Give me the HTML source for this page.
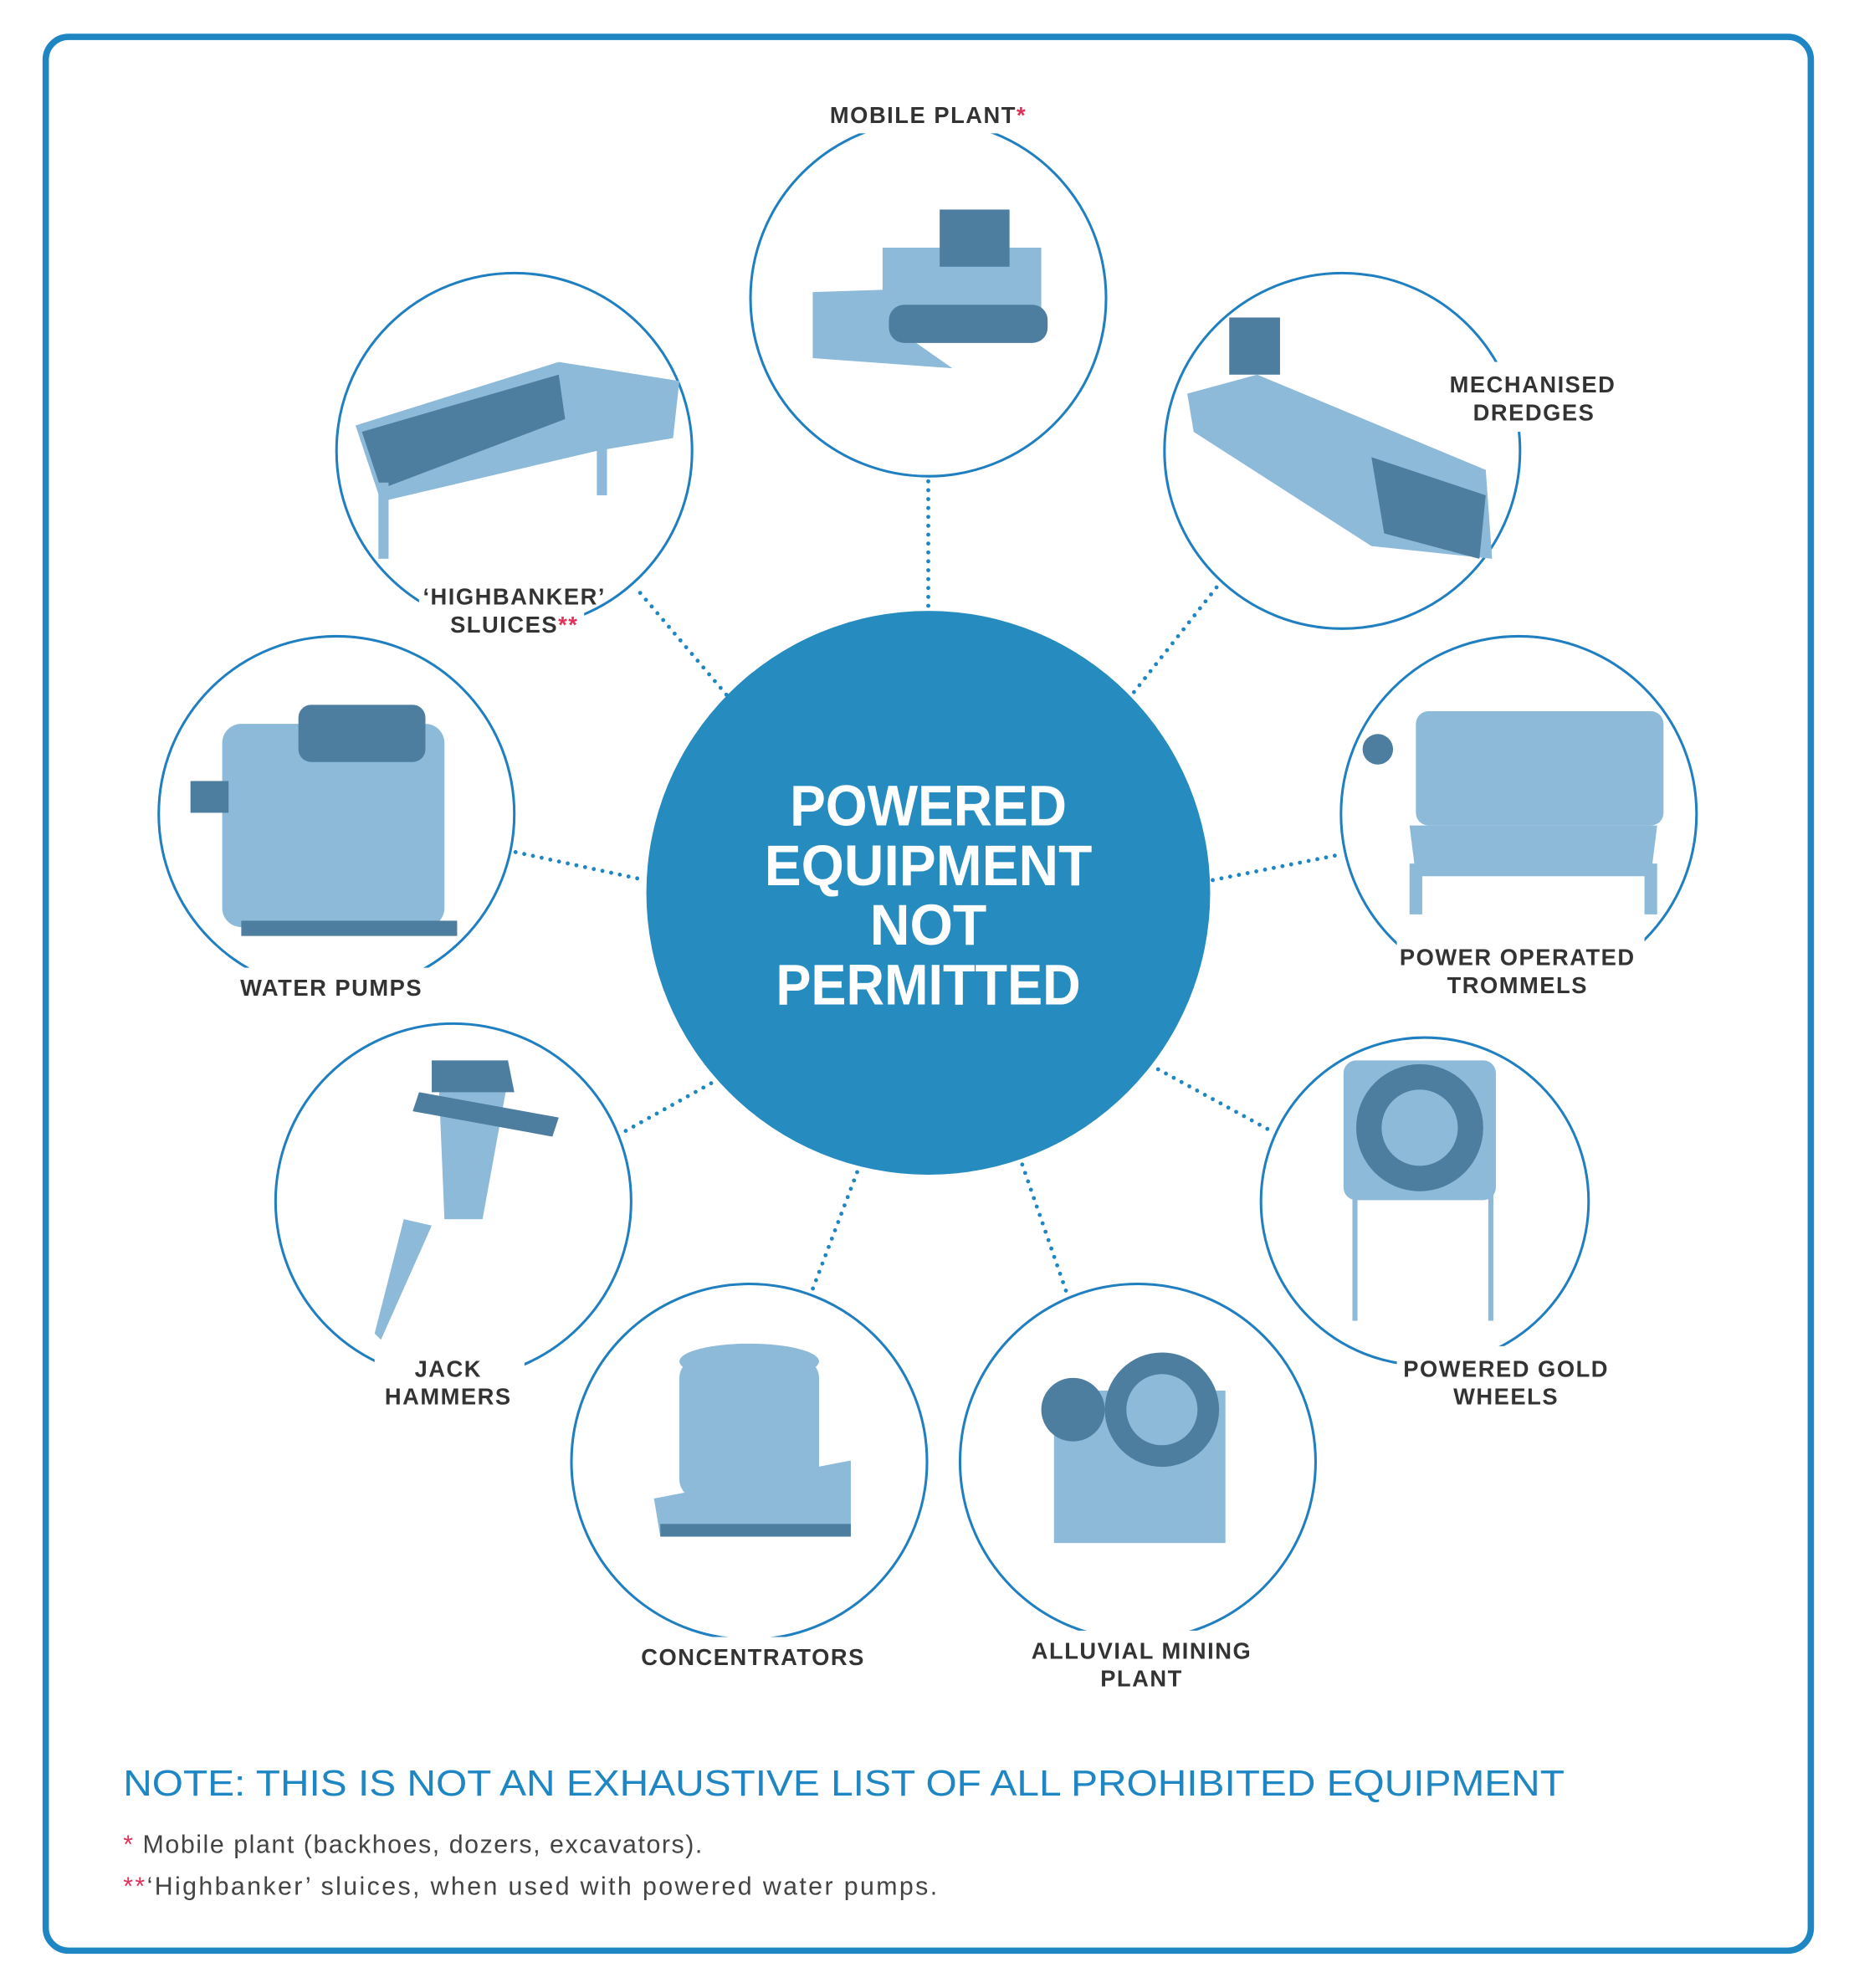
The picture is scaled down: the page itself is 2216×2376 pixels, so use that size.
<!DOCTYPE html>
<html><head><meta charset="utf-8"><style>
html,body{margin:0;padding:0;background:#fff;}
svg{display:block;}
.lab{font-family:"Liberation Sans",sans-serif;font-weight:bold;font-size:18px;fill:#333;letter-spacing:1px;}
.ring{fill:none;stroke:#1f7fc0;stroke-width:2;}
.dot{stroke:#1f86c4;stroke-width:3.2;stroke-linecap:round;stroke-dasharray:0 7;}
.img{fill:#8dbad8;}
.dk{fill:#4d7d9f;}
.wb{fill:#fff;}
</style></head><body>
<svg width="2216" height="2376" viewBox="0 0 1460 1565.4" xmlns="http://www.w3.org/2000/svg">
<rect x="36" y="29" width="1390" height="1507" rx="18" fill="#fff" stroke="#1f86c4" stroke-width="5"/>

<line class="dot" x1="731" y1="379" x2="731" y2="480"/>
<line class="dot" x1="893" y1="545" x2="960" y2="460"/>
<line class="dot" x1="955" y1="693" x2="1055" y2="673"/>
<line class="dot" x1="912" y1="842" x2="1000" y2="890"/>
<line class="dot" x1="805" y1="917" x2="840" y2="1018"/>
<line class="dot" x1="675" y1="923" x2="640" y2="1015"/>
<line class="dot" x1="560" y1="853" x2="490" y2="892"/>
<line class="dot" x1="406" y1="671" x2="508" y2="693"/>
<line class="dot" x1="572" y1="547" x2="500" y2="462"/>

<circle class="ring" cx="731" cy="235" r="140"/>
<circle class="ring" cx="1057" cy="355" r="140"/>
<circle class="ring" cx="405" cy="355" r="140"/>
<circle class="ring" cx="265" cy="641" r="140"/>
<circle class="ring" cx="1196" cy="641" r="140"/>
<circle class="ring" cx="357" cy="946" r="140"/>
<circle class="ring" cx="1122" cy="946" r="129"/>
<circle class="ring" cx="590" cy="1151" r="140"/>
<circle class="ring" cx="896" cy="1151" r="140"/>

<g>
<polygon class="img" points="640,230 700,228 700,255 750,290 640,282"/>
<rect class="img" x="695" y="195" width="125" height="60"/>
<rect class="dk" x="740" y="165" width="55" height="45"/>
<rect class="dk" x="700" y="240" width="125" height="30" rx="12"/>
<polygon class="img" points="935,310 990,295 1170,370 1175,440 1080,430 940,340"/>
<rect class="dk" x="968" y="250" width="40" height="45"/>
<polygon class="dk" points="1080,360 1170,390 1165,440 1090,420"/>
<polygon class="img" points="280,335 440,285 535,300 530,345 470,355 300,395"/>
<polygon class="dk" points="285,340 440,295 445,330 300,385"/>
<rect class="img" x="298" y="380" width="8" height="60"/>
<rect class="img" x="470" y="340" width="8" height="50"/>
<rect class="img" x="175" y="570" width="175" height="160" rx="15"/>
<rect class="dk" x="235" y="555" width="100" height="45" rx="10"/>
<rect class="dk" x="190" y="725" width="170" height="12"/>
<rect class="dk" x="150" y="615" width="30" height="25"/>
<rect class="img" x="1115" y="560" width="195" height="90" rx="10"/>
<polygon class="img" points="1110,650 1305,650 1300,690 1115,690"/>
<rect class="img" x="1110" y="680" width="10" height="40"/>
<rect class="img" x="1295" y="680" width="10" height="40"/>
<circle class="dk" cx="1085" cy="590" r="12"/>
<polygon class="img" points="345,840 400,850 380,960 350,960"/>
<polygon class="dk" points="330,860 440,880 435,895 325,875"/>
<polygon class="dk" points="340,835 400,835 405,860 340,860"/>
<polygon class="img" points="318,960 340,965 300,1055 295,1050"/>
<rect class="img" x="1058" y="835" width="120" height="110" rx="10"/>
<circle class="dk" cx="1118" cy="888" r="50"/>
<circle class="img" cx="1118" cy="888" r="30"/>
<rect class="img" x="1065" y="940" width="4" height="100"/>
<rect class="img" x="1172" y="940" width="4" height="100"/>
<rect class="img" x="535" y="1070" width="110" height="110" rx="15"/>
<ellipse class="img" cx="590" cy="1072" rx="55" ry="14"/>
<polygon class="img" points="515,1180 670,1150 670,1205 520,1210"/>
<rect class="dk" x="520" y="1200" width="150" height="10"/>
<rect class="img" x="830" y="1095" width="135" height="120"/>
<circle class="dk" cx="915" cy="1110" r="45"/>
<circle class="img" cx="915" cy="1110" r="28"/>
<circle class="dk" cx="845" cy="1110" r="25"/>
</g>

<circle cx="731" cy="703" r="222" fill="#268bbf"/>
<g font-family="Liberation Sans,sans-serif" font-weight="bold" font-size="45" fill="#fff" text-anchor="middle">
<text x="731" y="650" textLength="218" lengthAdjust="spacingAndGlyphs">POWERED</text>
<text x="731" y="697" textLength="258" lengthAdjust="spacingAndGlyphs">EQUIPMENT</text>
<text x="731" y="744" textLength="92" lengthAdjust="spacingAndGlyphs">NOT</text>
<text x="731" y="791" textLength="240" lengthAdjust="spacingAndGlyphs">PERMITTED</text>
</g>

<rect class="wb" x="648" y="75" width="170" height="30"/>
<rect class="wb" x="1135" y="285" width="145" height="55"/>
<rect class="wb" x="330" y="455" width="130" height="55"/>
<rect class="wb" x="180" y="762" width="165" height="30"/>
<rect class="wb" x="1100" y="738" width="195" height="55"/>
<rect class="wb" x="295" y="1062" width="118" height="55"/>
<rect class="wb" x="1100" y="1060" width="175" height="55"/>
<rect class="wb" x="500" y="1289" width="185" height="30"/>
<rect class="wb" x="805" y="1284" width="190" height="55"/>

<g class="lab" text-anchor="middle">
<text x="731" y="97">MOBILE PLANT<tspan fill="#e0315a">*</tspan></text>
<text x="1207" y="309">MECHANISED</text>
<text x="1208" y="331">DREDGES</text>
<text x="405" y="476">‘HIGHBANKER’</text>
<text x="405" y="498">SLUICES<tspan fill="#e0315a">**</tspan></text>
<text x="261" y="784">WATER PUMPS</text>
<text x="1195" y="760">POWER OPERATED</text>
<text x="1195" y="782">TROMMELS</text>
<text x="353" y="1084">JACK</text>
<text x="353" y="1106">HAMMERS</text>
<text x="1186" y="1084">POWERED GOLD</text>
<text x="1186" y="1106">WHEELS</text>
<text x="593" y="1311">CONCENTRATORS</text>
<text x="899" y="1306">ALLUVIAL MINING</text>
<text x="899" y="1328">PLANT</text>
</g>

<text x="97" y="1414" font-family="Liberation Sans,sans-serif" font-size="29" fill="#1f86c4" textLength="1135" lengthAdjust="spacingAndGlyphs">NOTE: THIS IS NOT AN EXHAUSTIVE LIST OF ALL PROHIBITED EQUIPMENT</text>
<g font-family="Liberation Sans,sans-serif" font-size="20" fill="#444">
<text x="97" y="1459" textLength="456" lengthAdjust="spacing"><tspan fill="#e0315a">*</tspan> Mobile plant (backhoes, dozers, excavators).</text>
<text x="97" y="1492" textLength="641" lengthAdjust="spacing"><tspan fill="#e0315a">**</tspan>‘Highbanker’ sluices, when used with powered water pumps.</text>
</g>
</svg>
</body></html>
